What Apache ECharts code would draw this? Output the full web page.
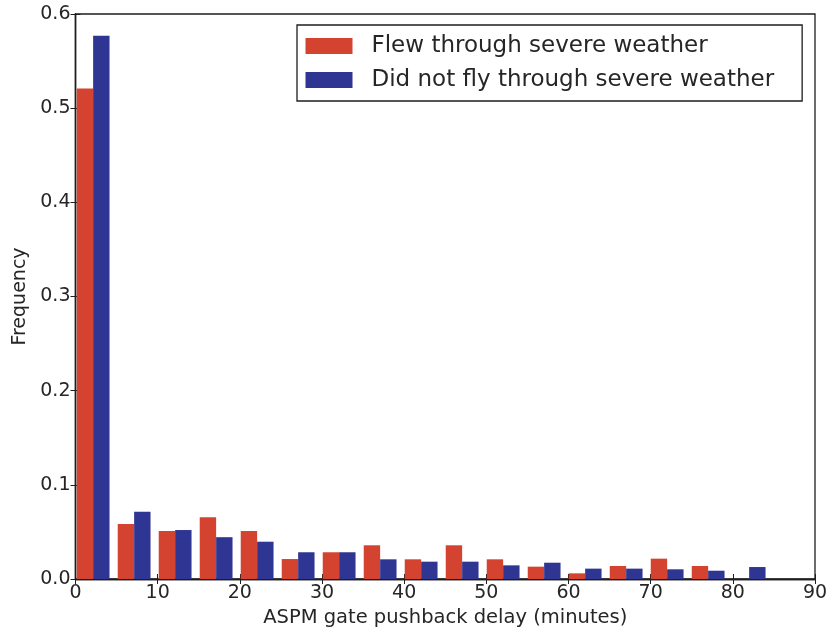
<!DOCTYPE html>
<html>
<head>
<meta charset="utf-8">
<script src="https://cdn.jsdelivr.net/npm/echarts@6/dist/echarts.min.js"></script>
<style>
  html, body { margin: 0; padding: 0; background: #ffffff; }
  #chart { width: 829px; height: 628px; }
</style>
</head>
<body>
<div id="chart"></div>
<script>
// Histogram of ASPM gate pushback delay, two groups side by side per bin.
const seriesNames = ['Flew through severe weather', 'Did not fly through severe weather'];

// Left edges of the 17 bins plus the final right edge (minutes)
const binEdges = [-0.35, 4.64, 9.63, 14.62, 19.61, 24.60, 29.59, 34.58, 39.57,
                  44.56, 49.55, 54.54, 59.53, 64.52, 69.51, 74.50, 79.49, 84.48];

// Frequency per bin
const flewFreq = [0.521, 0.0584, 0.051, 0.0655, 0.051, 0.0212, 0.0284, 0.0358, 0.0209,
                  0.0358, 0.0209, 0.0131, 0.006, 0.0138, 0.0216, 0.0138, 0];
const notFlewFreq = [0.577, 0.0715, 0.052, 0.0444, 0.0396, 0.0284, 0.0284, 0.0209, 0.0184,
                     0.0184, 0.0145, 0.0173, 0.011, 0.011, 0.0103, 0.0088, 0.0127];

const xTicks = [0, 10, 20, 30, 40, 50, 60, 70, 80, 90];
const yTicks = [0.0, 0.1, 0.2, 0.3, 0.4, 0.5, 0.6];

const FONT = 'DejaVu Sans';
const AXIS_COLOR = '#1e1e1e';
const TEXT_COLOR = '#262626';
const RED = '#d4432f';
const BLUE = '#2f3592';

// Each bin holds two bars covering 80% of the bin: first group in the
// left half, second group in the right half.
function barsFor(values, slot) {
  return values.map(function (v, i) {
    const left = binEdges[i];
    const w = binEdges[i + 1] - left;
    const x0 = left + w * (0.1 + 0.4 * slot);
    return [x0, x0 + 0.4 * w, v];
  });
}

function renderBar(params, api) {
  const p0 = api.coord([api.value(0), api.value(2)]);
  const p1 = api.coord([api.value(1), 0]);
  return {
    type: 'rect',
    shape: { x: p0[0], y: p0[1], width: p1[0] - p0[0], height: p1[1] - p0[1] },
    style: { fill: api.visual('color') }
  };
}

const chart = echarts.init(document.getElementById('chart'), null, { renderer: 'canvas' });

const tickLabel = { fontFamily: FONT, fontSize: 19, color: TEXT_COLOR };
const tickStyle = { show: true, inside: true, length: 5, lineStyle: { color: AXIS_COLOR, width: 1 } };
const lineStyle = { show: true, lineStyle: { color: AXIS_COLOR, width: 1.3 } };

function xAxisOn(position, extra) {
  return Object.assign({
    type: 'value', min: xTicks[0], max: xTicks[xTicks.length - 1], interval: 10,
    position: position,
    axisLine: lineStyle, axisTick: tickStyle,
    axisLabel: { show: false },
    splitLine: { show: false }
  }, extra || {});
}
function yAxisOn(position, extra) {
  return Object.assign({
    type: 'value', min: yTicks[0], max: yTicks[yTicks.length - 1], interval: 0.1,
    position: position,
    axisLine: lineStyle, axisTick: tickStyle,
    axisLabel: { show: false },
    splitLine: { show: false }
  }, extra || {});
}

chart.setOption({
  animation: false,
  backgroundColor: '#ffffff',
  textStyle: { fontFamily: FONT },
  grid: { left: 75.5, right: 14, top: 14, bottom: 49, show: true,
          outerBoundsMode: 'none', containLabel: false,
          borderColor: AXIS_COLOR, borderWidth: 1.3, backgroundColor: 'transparent' },
  legend: {
    data: seriesNames,
    orient: 'vertical',
    left: 297,
    top: 25,
    icon: 'rect',
    itemWidth: 47,
    itemHeight: 16,
    itemGap: 11,
    padding: [9.5, 28, 9.5, 8.5],
    borderColor: AXIS_COLOR,
    borderWidth: 1.3,
    backgroundColor: '#ffffff',
    selectedMode: false,
    textStyle: { fontFamily: FONT, fontSize: 23, lineHeight: 16, color: TEXT_COLOR,
                 padding: [0, 0, 0, 14] }
  },
  xAxis: [
    xAxisOn('bottom', {
      name: 'ASPM gate pushback delay (minutes)',
      nameLocation: 'middle', nameGap: 23,
      nameTextStyle: { fontFamily: FONT, fontSize: 19.5, color: TEXT_COLOR },
      axisLabel: Object.assign({ margin: 5 }, tickLabel)
    }),
    xAxisOn('top')
  ],
  yAxis: [
    yAxisOn('left', {
      name: 'Frequency',
      nameLocation: 'middle', nameGap: 45,
      nameTextStyle: { fontFamily: FONT, fontSize: 19, color: TEXT_COLOR },
      axisLabel: Object.assign({ margin: 5, formatter: function (v) { return v.toFixed(1); } }, tickLabel)
    }),
    yAxisOn('right')
  ],
  series: [
    {
      name: seriesNames[0], type: 'custom', xAxisIndex: 0, yAxisIndex: 0,
      itemStyle: { color: RED },
      renderItem: renderBar,
      encode: { x: [0, 1], y: 2 },
      data: barsFor(flewFreq, 0)
    },
    {
      name: seriesNames[1], type: 'custom', xAxisIndex: 0, yAxisIndex: 0,
      itemStyle: { color: BLUE },
      renderItem: renderBar,
      encode: { x: [0, 1], y: 2 },
      data: barsFor(notFlewFreq, 1)
    },
    // empty series so the top and right axes get laid out and draw their ticks
    { type: 'line', xAxisIndex: 1, yAxisIndex: 1, data: [], silent: true }
  ]
});
</script>
</body>
</html>
